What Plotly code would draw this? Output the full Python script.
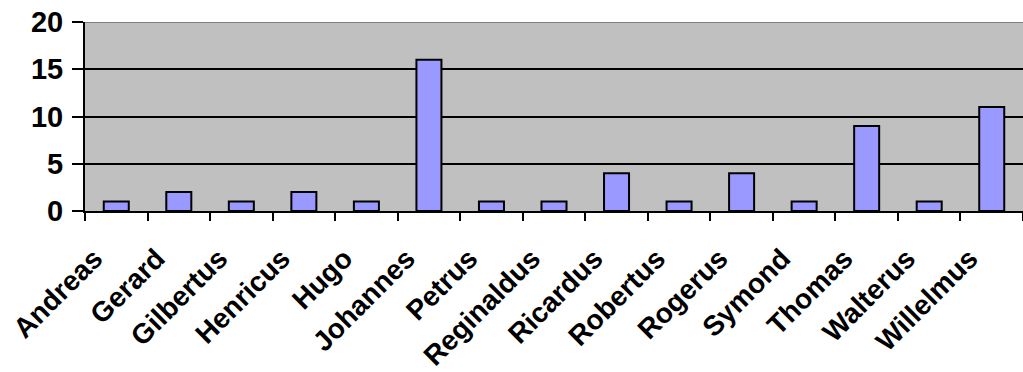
import plotly.graph_objects as go

names = ["Andreas", "Gerard", "Gilbertus", "Henricus", "Hugo", "Johannes", "Petrus",
         "Reginaldus", "Ricardus", "Robertus", "Rogerus", "Symond", "Thomas",
         "Walterus", "Willelmus"]
counts = [1, 2, 1, 2, 1, 16, 1, 1, 4, 1, 4, 1, 9, 1, 11]
y_ticks = [0, 5, 10, 15, 20]

FONT = "Liberation Sans, Arial, sans-serif"

fig = go.Figure(go.Bar(
    x=names, y=counts, width=0.4,
    marker=dict(color="#9999FF", line=dict(color="black", width=2)),
))

fig.update_layout(
    width=1023, height=372,
    margin=dict(l=85, r=0, t=22, b=161),
    plot_bgcolor="#C0C0C0", paper_bgcolor="white",
    showlegend=False,
    font=dict(family=FONT, size=28, color="black", weight="bold"),
    shapes=[dict(type="line", xref="paper", x0=0, x1=1, yref="y", y0=20, y1=20,
                 line=dict(color="#808080", width=2), layer="above")],
)
fig.update_xaxes(
    type="category", tickangle=-45, tickson="boundaries",
    ticks="outside", ticklen=8, tickwidth=2, tickcolor="black",
    ticklabelshift=-22, ticklabelstandoff=18,
    showline=True, linecolor="black", linewidth=2, showgrid=False,
    tickfont=dict(family=FONT, size=28, color="black", weight="bold"),
)
fig.update_yaxes(
    range=[0, 20], tickvals=y_ticks, ticks="outside", ticklen=11, tickwidth=2,
    tickcolor="black", showline=True, linecolor="black", linewidth=2,
    ticklabelstandoff=3,
    showgrid=True, gridcolor="black", gridwidth=2, zeroline=False,
    tickfont=dict(family=FONT, size=29, color="black", weight="bold"),
)

fig.write_html("out.html")
